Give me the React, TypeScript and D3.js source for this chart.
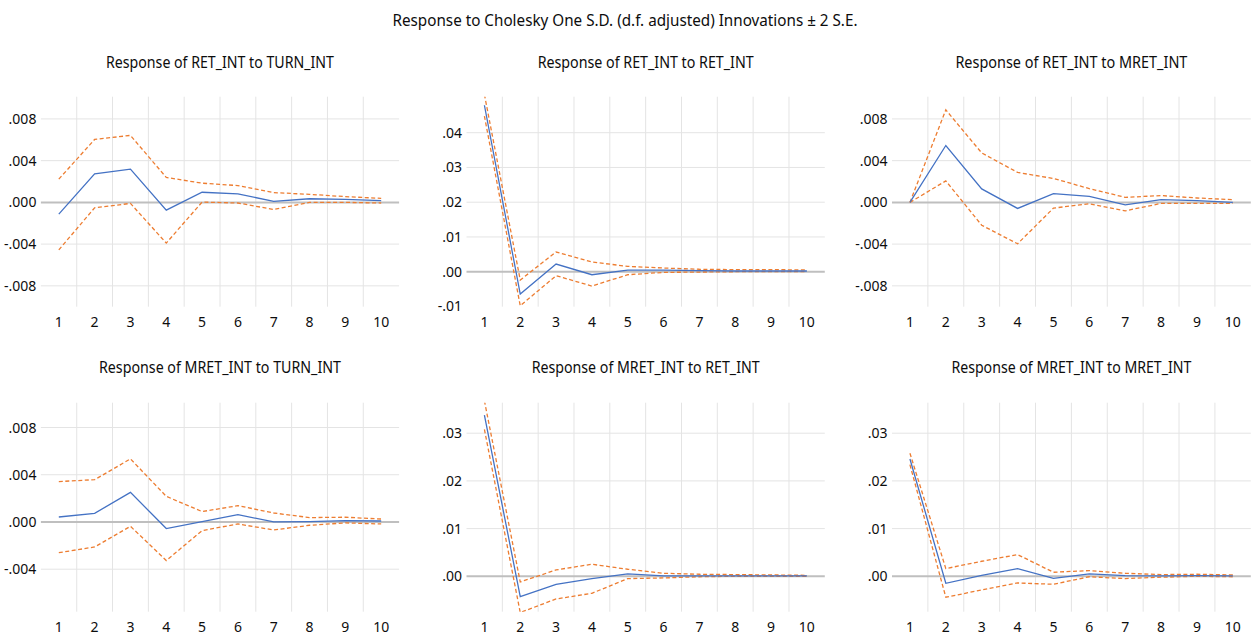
import React from "react";
import * as d3 from "d3";

const horizons = ["1", "2", "3", "4", "5", "6", "7", "8", "9", "10"];

const mainTitle = "Response to Cholesky One S.D. (d.f. adjusted) Innovations \u00b1 2 S.E.";

const panelTitles = [
  "Response of RET_INT to TURN_INT",
  "Response of RET_INT to RET_INT",
  "Response of RET_INT to MRET_INT",
  "Response of MRET_INT to TURN_INT",
  "Response of MRET_INT to RET_INT",
  "Response of MRET_INT to MRET_INT",
];

// Panel 1: RET_INT to TURN_INT
const retTurnResp = [-0.00113, 0.00274, 0.00319, -0.00074, 0.00097, 0.00081, 0.0001, 0.00035, 0.00029, 0.00016];
const retTurnUpper = [0.00223, 0.00603, 0.00642, 0.00239, 0.00184, 0.00161, 0.00094, 0.00077, 0.00055, 0.00039];
const retTurnLower = [-0.00455, -0.00052, -0.0001, -0.0039, 0.00003, -0.00006, -0.00068, 0.0, 0.0, -0.00006];

// Panel 2: RET_INT to RET_INT
const retRetResp = [0.0479, -0.00644, 0.00221, -0.00087, 0.00048, 0.00045, 0.0003, 0.0002, 0.0002, 0.0002];
const retRetUpper = [0.051, -0.0024, 0.00567, 0.00279, 0.00154, 0.00106, 0.0007, 0.0006, 0.0006, 0.0005];
const retRetLower = [0.0448, -0.0098, -0.00115, -0.00413, -0.00087, -0.0002, -0.0001, 0.0, 0.0, 0.0];

// Panel 3: RET_INT to MRET_INT
const retMretResp = [0.0, 0.00545, 0.00129, -0.00058, 0.00084, 0.00058, -0.00023, 0.00026, 0.00016, 0.0];
const retMretUpper = [0.0, 0.00887, 0.00474, 0.00287, 0.00229, 0.00132, 0.00048, 0.00065, 0.00042, 0.00026];
const retMretLower = [0.0, 0.00206, -0.00219, -0.00397, -0.00055, -0.00013, -0.00081, -0.0001, -0.0001, -0.0001];

// Panel 4: MRET_INT to TURN_INT
const mretTurnResp = [0.00042, 0.00073, 0.00251, -0.00056, 0.00003, 0.00062, 0.0, 0.00003, 0.00011, 0.00008];
const mretTurnUpper = [0.00342, 0.00358, 0.00534, 0.00217, 0.00088, 0.00138, 0.00076, 0.00037, 0.0004, 0.00025];
const mretTurnLower = [-0.0026, -0.00212, -0.00037, -0.00327, -0.00073, -0.00017, -0.00068, -0.00028, -0.00008, -0.00017];

// Panel 5: MRET_INT to RET_INT
const mretRetResp = [0.0338, -0.00427, -0.00168, -0.00049, 0.00049, 0.00007, 0.0001, 0.0001, 0.0001, 0.0001];
const mretRetUpper = [0.0368, -0.00119, 0.00133, 0.00252, 0.00147, 0.00063, 0.00042, 0.00035, 0.00028, 0.0002];
const mretRetLower = [0.0308, -0.0076, -0.00476, -0.00357, -0.00049, -0.00035, -0.0001, 0.0, 0.0, 0.0];

// Panel 6: MRET_INT to MRET_INT
const mretMretResp = [0.0246, -0.00147, 0.0002, 0.00161, -0.00042, 0.00049, 0.00014, 0.00007, 0.00014, 0.00007];
const mretMretUpper = [0.0258, 0.00161, 0.00315, 0.00455, 0.00084, 0.00119, 0.00063, 0.00035, 0.00042, 0.00028];
const mretMretLower = [0.0234, -0.0044, -0.00287, -0.0014, -0.00168, -0.0001, -0.00049, -0.0002, 0.0, -0.0001];

// Y-axis ticks per panel
const ticksSmallTop = [-0.008, -0.004, 0, 0.004, 0.008];
const ticksRetRet = [-0.01, 0, 0.01, 0.02, 0.03, 0.04];
const ticksSmallBottom = [-0.004, 0, 0.004, 0.008];
const ticksLarge = [0, 0.01, 0.02, 0.03];

const tickDecimals = [3, 2, 3, 3, 2, 2];
const yDomains: [number, number][] = [
  [-0.0100, 0.01013],
  [-0.01007, 0.05036],
  [-0.0100, 0.01013],
  [-0.0076, 0.0101],
  [-0.00743, 0.0364],
  [-0.00743, 0.0364],
];
const panelTicks = [ticksSmallTop, ticksRetRet, ticksSmallTop, ticksSmallBottom, ticksLarge, ticksLarge];
const panelResp = [retTurnResp, retRetResp, retMretResp, mretTurnResp, mretRetResp, mretMretResp];
const panelUpper = [retTurnUpper, retRetUpper, retMretUpper, mretTurnUpper, mretRetUpper, mretMretUpper];
const panelLower = [retTurnLower, retRetLower, retMretLower, mretTurnLower, mretRetLower, mretMretLower];

// Layout
const W = 1251;
const H = 638;
const colX: [number, number][] = [
  [40.9, 399.1],
  [466.5, 824.8],
  [892, 1250.8],
];
const rowY: [number, number][] = [
  [96.7, 306.7],
  [402.7, 611.7],
];
const titleBaseline = [68.3, 373.3];
const xLabelBaseline = [327.3, 631.7];
const titleWidths = [228, 216, 232, 242, 228, 240];

const FONT = "'Noto Sans', 'Open Sans', sans-serif";
const BLUE = "#4472C4";
const ORANGE = "#ED7D31";
const GRID = "#E4E4E4";
const ZERO = "#BFBFBF";
const TEXT = "#0d0d0d";

function fmtTick(v: number, dec: number): string {
  const s = Math.abs(v) < 1e-12 ? (0).toFixed(dec) : v.toFixed(dec);
  return s.replace("0.", ".");
}

function Panel({ idx }: { idx: number }) {
  const row = Math.floor(idx / 3);
  const col = idx % 3;
  const [x0, x1] = colX[col];
  const [y0, y1] = rowY[row];
  const x = d3.scaleBand<string>().domain(horizons).range([x0, x1]).paddingInner(0).paddingOuter(0);
  const y = d3.scaleLinear().domain(yDomains[idx]).range([y1, y0]);
  const cx = (h: string) => (x(h) as number) + x.bandwidth() / 2;
  const line = d3
    .line<number>()
    .x((_, i) => cx(horizons[i]))
    .y((v) => y(v));
  const clipId = `clip-${idx}`;
  const ticks = panelTicks[idx];
  return (
    <g>
      <defs>
        <clipPath id={clipId}>
          <rect x={x0} y={y0} width={x1 - x0} height={y1 - y0} />
        </clipPath>
      </defs>
      <text
        x={(x0 + x1) / 2}
        y={titleBaseline[row]}
        textAnchor="middle"
        fontFamily={FONT}
        fontSize={15.5}
        fill={TEXT}
        textLength={titleWidths[idx]}
        lengthAdjust="spacingAndGlyphs"
      >
        {panelTitles[idx]}
      </text>
      {horizons.slice(1).map((h) => (
        <line key={"v" + h} x1={x(h) as number} x2={x(h) as number} y1={y0} y2={y1} stroke={GRID} strokeWidth={1} />
      ))}
      {ticks
        .filter((t) => Math.abs(t) > 1e-12 && y(t) > y0 + 2 && y(t) < y1 - 2)
        .map((t) => (
          <line key={"h" + t} x1={x0} x2={x1} y1={y(t)} y2={y(t)} stroke={GRID} strokeWidth={1} />
        ))}
      <line x1={x0} x2={x1} y1={y(0)} y2={y(0)} stroke={ZERO} strokeWidth={2} />
      {ticks.map((t) => (
        <text
          key={"t" + t}
          x={x0 - 4.5}
          y={y(t)}
          dy="0.36em"
          textAnchor="end"
          fontFamily={FONT}
          fontSize={14}
          fill={TEXT}
        >
          {fmtTick(t, tickDecimals[idx])}
        </text>
      ))}
      {horizons.map((h) => (
        <text
          key={"x" + h}
          x={cx(h)}
          y={xLabelBaseline[row]}
          textAnchor="middle"
          fontFamily={FONT}
          fontSize={14}
          fill={TEXT}
        >
          {h}
        </text>
      ))}
      <g clipPath={`url(#${clipId})`}>
        <path d={line(panelUpper[idx]) || ""} fill="none" stroke={ORANGE} strokeWidth={1.3} strokeDasharray="4,2.5" />
        <path d={line(panelLower[idx]) || ""} fill="none" stroke={ORANGE} strokeWidth={1.3} strokeDasharray="4,2.5" />
        <path d={line(panelResp[idx]) || ""} fill="none" stroke={BLUE} strokeWidth={1.3} />
      </g>
    </g>
  );
}

export default function App() {
  return (
    <svg
      width={W}
      height={H}
      viewBox={`0 0 ${W} ${H}`}
      style={{ position: "absolute", left: 0, top: 0, background: "#fff" }}
    >
      <rect x={0} y={0} width={W} height={H} fill="#fff" />
      <text
        x={625}
        y={26}
        textAnchor="middle"
        fontFamily={FONT}
        fontSize={16.5}
        fill={TEXT}
        textLength={465}
        lengthAdjust="spacingAndGlyphs"
      >
        {mainTitle}
      </text>
      {panelTitles.map((_, i) => (
        <Panel key={i} idx={i} />
      ))}
    </svg>
  );
}
